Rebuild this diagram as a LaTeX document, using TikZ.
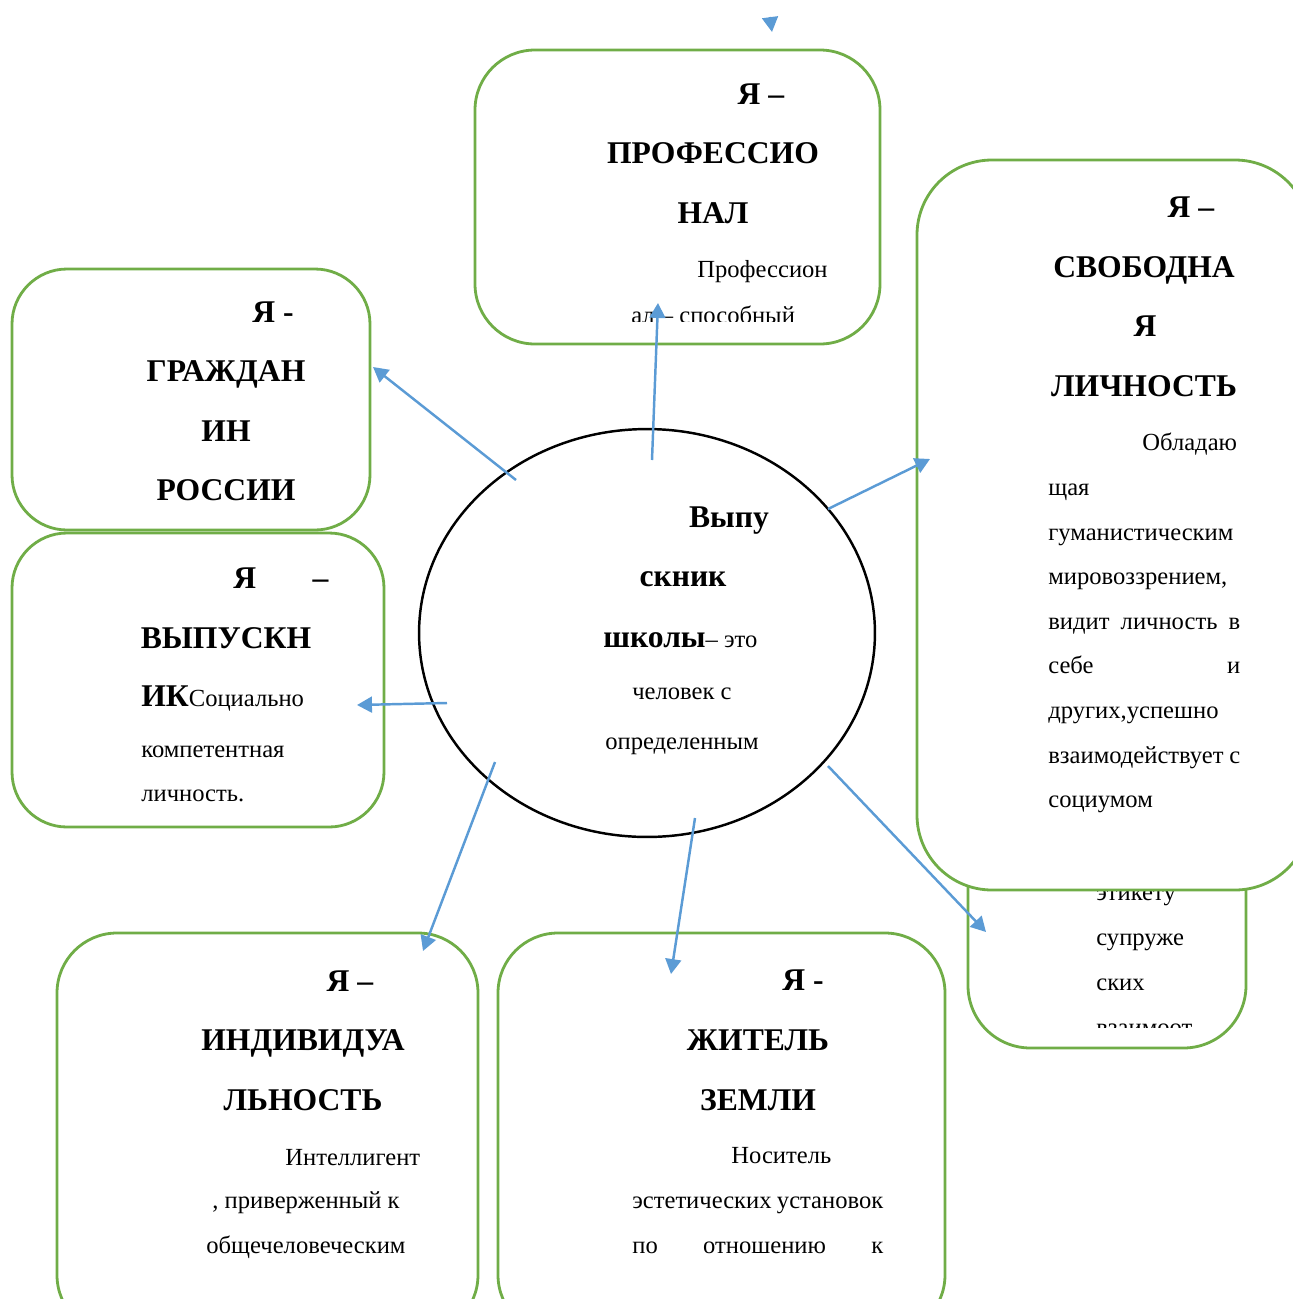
\documentclass[tikz,border=0pt]{standalone}
\usepackage{fontspec}
\setmainfont{Liberation Serif}
\usetikzlibrary{arrows.meta,shapes.geometric,fit}
\definecolor{zelen}{HTML}{70AD47}
\definecolor{sinij}{HTML}{5B9BD5}

\begin{document}
\begin{tikzpicture}[x=0.02cm,y=-0.02cm]
\useasboundingbox (0,0) rectangle (1293,1299);
% стили рамок, стрелок и текста
\tikzstyle{ramka} = [draw=zelen,line width=1.6pt,rounded corners=1.2cm,fill=white,inner sep=0pt];
\tikzstyle{strelka} = [draw=sinij,line width=1.4pt,-{Triangle[length=8.5pt,width=9pt]}];
\tikzstyle{zag} = [font=\fontsize{18}{20}\selectfont\bfseries,inner sep=0pt];
\tikzstyle{txt} = [font=\fontsize{14}{16}\selectfont,inner sep=0pt];
% рамка
% #1: имя рамки
% #2: левый верхний угол
% #3: правый нижний угол
% #4: доп. опции
\newcommand{\ramka}[4]{
\node[ramka,fit={#2 #3},#4] (#1) {};
}
% строка по центру
% #1: имя, #2: стиль, #3: базовая точка, #4: текст
\newcommand{\strokac}[4]{
\node[#2,anchor=base] (#1) at #3 {#4};
}
% строка от левого края
\newcommand{\strokal}[4]{
\node[#2,anchor=base west] (#1) at #3 {#4};
}
% строка по ширине
% #1: имя, #2: базовая точка, #3: ширина, #4: текст
\newcommand{\strokaj}[4]{
\node[txt,anchor=base west] (#1) at #2 {\hbox to #3{#4}};
}
% рамка за свободной личностью
\ramka{supr}{(968,820)}{(1246,1048)}{rounded corners=1.25cm}
\begin{scope}
\clip (968,880) rectangle (1246,1027);
\strokal{s1}{txt}{(1096,900)}{этикету}
\strokal{s2}{txt}{(1096,945)}{супруже}
\strokal{s3}{txt}{(1096,990)}{ских}
\strokal{s4}{txt}{(1096,1035)}{взаимоот}
\end{scope}
% я - свободная личность
\ramka{svob}{(917,160)}{(1310,890)}{rounded corners=1.5cm}
\strokac{v1}{zag}{(1191,217)}{Я –}
\strokac{v2}{zag}{(1144,277)}{СВОБОДНА}
\strokac{v3}{zag}{(1145,336)}{Я}
\strokac{v4}{zag}{(1144,396)}{ЛИЧНОСТЬ}
\strokal{v5}{txt}{(1142,450)}{Обладаю}
\strokal{v6}{txt}{(1048,495)}{щая}
\strokal{v7}{txt}{(1048,540)}{гуманистическим}
\strokal{v8}{txt}{(1048,584)}{мировоззрением,}
\strokaj{v9}{(1048,629)}{3.84cm}{видит\hfill личность\hfill в}
\strokaj{v10}{(1048,673)}{3.84cm}{себе\hfill и}
\strokal{v11}{txt}{(1048,718)}{других,успешно}
\strokaj{v12}{(1048,763)}{3.84cm}{взаимодействует\hfill с}
\strokal{v13}{txt}{(1048,807)}{социумом}
% я - профессионал
\ramka{prof}{(475,50)}{(880,344)}{}
\begin{scope}
\clip (475,50) rectangle (880,321);
\strokac{p1}{zag}{(761,104)}{Я –}
\strokac{p2}{zag}{(713,163)}{ПРОФЕССИО}
\strokac{p3}{zag}{(713,223)}{НАЛ}
\strokal{p4}{txt}{(697,277)}{Профессион}
\strokal{p5}{txt}{(631,323)}{ал – способный}
\end{scope}
% я - гражданин россии
\ramka{grazh}{(12,269)}{(370,530)}{rounded corners=1.1cm}
\strokac{g1}{zag}{(273,322)}{Я -}
\strokac{g2}{zag}{(226,381)}{ГРАЖДАН}
\strokac{g3}{zag}{(226,441)}{ИН}
\strokac{g4}{zag}{(226,500)}{РОССИИ}
% я - выпускник
\ramka{vyp}{(12,533)}{(384,827)}{rounded corners=1.1cm}
\strokal{u1}{zag}{(233,588)}{\hbox to 1.9cm{Я\hfill –}}
\strokac{u2}{zag}{(226,648)}{ВЫПУСКН}
\strokal{u3}{txt}{(141,706)}{{\fontsize{18}{20}\selectfont\bfseries ИК}Социально}
\strokal{u4}{txt}{(141,757)}{компетентная}
\strokal{u5}{txt}{(141,801)}{личность.}
% я - индивидуальность
\ramka{ind}{(57,933)}{(478,1335)}{}
\strokac{i1}{zag}{(350,991)}{Я –}
\strokac{i2}{zag}{(303,1050)}{ИНДИВИДУА}
\strokac{i3}{zag}{(303,1110)}{ЛЬНОСТЬ}
\strokal{i4}{txt}{(285,1165)}{Интеллигент}
\strokal{i5}{txt}{(212,1208)}{, приверженный к}
\strokal{i6}{txt}{(206,1253)}{общечеловеческим}
% я - житель земли
\ramka{zhit}{(498,933)}{(945,1335)}{}
\strokac{z1}{zag}{(803,990)}{Я -}
\strokac{z2}{zag}{(758,1050)}{ЖИТЕЛЬ}
\strokac{z3}{zag}{(758,1110)}{ЗЕМЛИ}
\strokal{z4}{txt}{(731,1163)}{Носитель}
\strokaj{z5}{(632,1208)}{5.02cm}{эстетических\hfill установок}
\strokaj{z6}{(632,1253)}{5.02cm}{по\hfill отношению\hfill к}
% выпускник школы
\node[draw,ellipse,line width=1.4pt,minimum width=9.12cm,minimum height=8.16cm,inner sep=0pt] (centr) at (647,633) {};
\strokac{c1}{zag}{(729,527)}{Выпу}
\strokac{c2}{zag}{(683,586)}{скник}
\strokal{c3}{txt}{(603,647)}{{\fontsize{18}{20}\selectfont\bfseries школы}– это}
\strokac{c4}{txt}{(682,699)}{человек с}
\strokac{c5}{txt}{(682,749)}{определенным}
% концы стрелок
\coordinate (a1) at (652,460); \coordinate (b1) at (658,303);
\coordinate (a2) at (516,480); \coordinate (b2) at (373,367);
\coordinate (a3) at (828,509); \coordinate (b3) at (930,459);
\coordinate (a4) at (447,703); \coordinate (b4) at (357,705);
\coordinate (a5) at (495,762); \coordinate (b5) at (423,951);
\coordinate (a6) at (695,818); \coordinate (b6) at (671,974);
\coordinate (a7) at (828,766); \coordinate (b7) at (986,932);
\coordinate (a8) at (770,17); \coordinate (b8) at (772,32);
% стрелки
\draw[strelka] (a1) -- (b1);
\draw[strelka] (a2) -- (b2);
\draw[strelka] (a3) -- (b3);
\draw[strelka] (a4) -- (b4);
\draw[strelka] (a5) -- (b5);
\draw[strelka] (a6) -- (b6);
\draw[strelka] (a7) -- (b7);
\draw[strelka] (a8) -- (b8);
\end{tikzpicture}
\end{document}
